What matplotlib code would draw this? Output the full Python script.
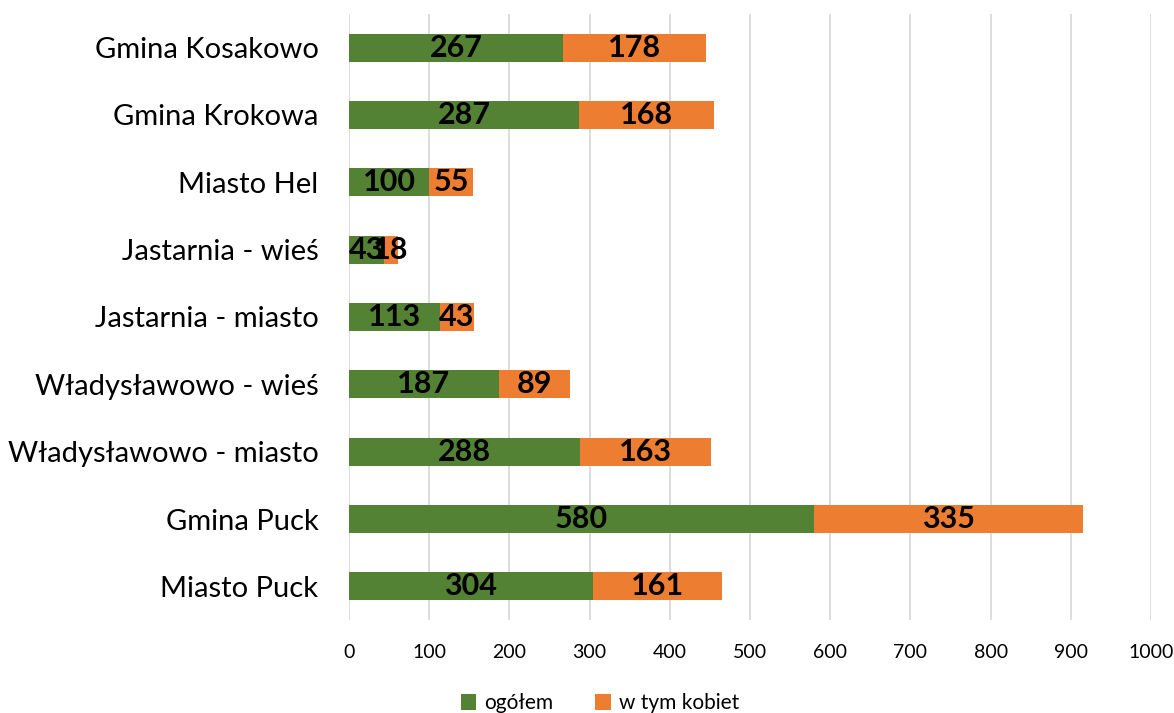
import numpy as np
import matplotlib.pyplot as plt

plt.rcParams['font.family'] = ['Lato', 'DejaVu Sans']

# data (bottom to top)
categories = ['Miasto Puck', 'Gmina Puck', 'Władysławowo - miasto', 'Władysławowo - wieś',
              'Jastarnia - miasto', 'Jastarnia - wieś', 'Miasto Hel', 'Gmina Krokowa',
              'Gmina Kosakowo']
ogolem = [304, 580, 288, 187, 113, 43, 100, 287, 267]
kobiety = [161, 335, 163, 89, 43, 18, 55, 168, 178]

green = '#548235'
orange = '#ED7D31'

fig = plt.figure(figsize=(11.74, 7.13), dpi=100)
ax = fig.add_axes([0.2973, 0.1304, 0.6831, 0.85])

y = np.arange(len(categories))
b1 = ax.barh(y, ogolem, height=0.42, color=green, label='ogółem', zorder=3)
b2 = ax.barh(y, kobiety, left=ogolem, height=0.42, color=orange, label='w tym kobiet', zorder=3)
ax.bar_label(b1, label_type='center', fontsize=22, fontweight='bold', color='black')
ax.bar_label(b2, label_type='center', fontsize=22, fontweight='bold', color='black')

ax.set_xlim(0, 1000)
ax.set_ylim(-0.5, len(categories) - 0.5)
ax.set_xticks(range(0, 1001, 100))
ax.set_yticks(y)
ax.set_yticklabels(categories, fontsize=21)
ax.tick_params(axis='x', labelsize=14, length=0, pad=17)
ax.tick_params(axis='y', length=0, pad=22)
ax.grid(axis='x', color='#D9D9D9', linewidth=1.3, zorder=0)
for s in ax.spines.values():
    s.set_visible(False)

ax.legend(loc='upper center', bbox_to_anchor=(0.313, -0.09), ncol=2, frameon=False,
          fontsize=15, handlelength=0.75, handleheight=0.75, columnspacing=2.0, handletextpad=0.4)

fig.savefig('out.png', dpi=100)
